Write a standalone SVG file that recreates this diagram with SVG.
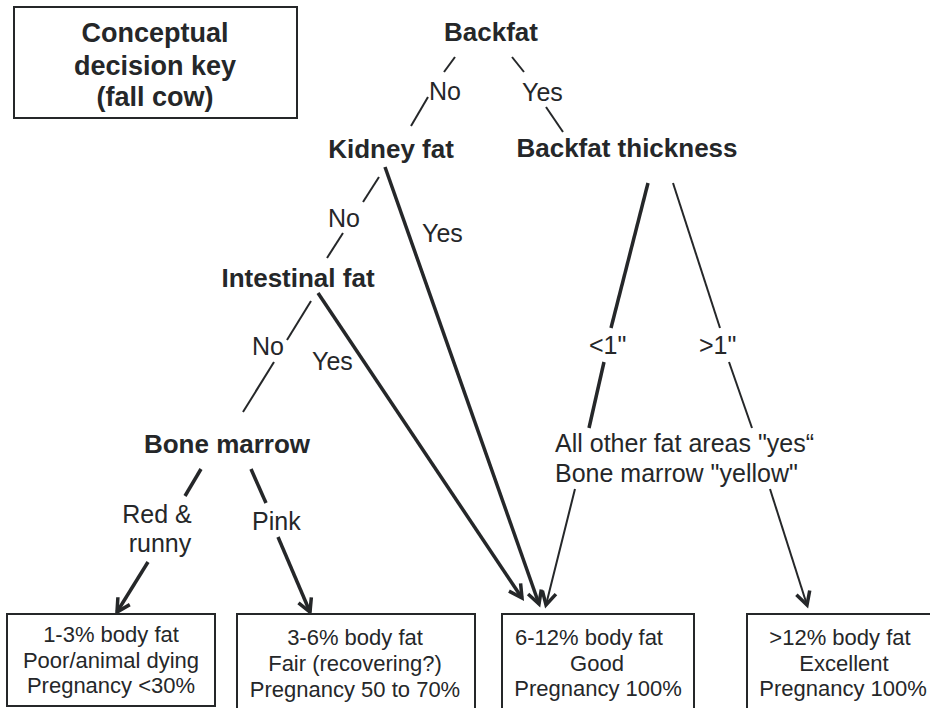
<svg xmlns="http://www.w3.org/2000/svg" width="930" height="708" viewBox="0 0 930 708">
<defs>
<style>
text{font-family:"Liberation Sans",Arial,sans-serif;fill:#252729}
.n{font-size:26px;font-weight:bold;text-anchor:middle}
.tt{font-size:27px}
.l{font-size:25px}
.b{font-size:22px;text-anchor:middle}
.box{fill:#fff;stroke:#252729;stroke-width:2}
.c{stroke:#252729;fill:none;stroke-linecap:butt}
.t1{stroke-width:2}
.t2{stroke-width:3.5}
</style>
<marker id="ah" markerUnits="userSpaceOnUse" markerWidth="20" markerHeight="20" viewBox="0 0 20 20" refX="16" refY="10" orient="auto">
<path d="M3,3 L16,10 L3,17" fill="none" stroke="#252729" stroke-width="3.5"/>
</marker>
</defs>
<rect width="930" height="708" fill="#fff"/>

<g id="title">
<rect class="box" x="14" y="7" width="283" height="111"/>
<text class="n tt" x="155" y="42">Conceptual</text>
<text class="n tt" x="155" y="75">decision key</text>
<text class="n tt" x="155" y="106">(fall cow)</text>
</g>

<g id="connectors">
<line class="c t1" x1="455" y1="57" x2="444" y2="72"/>
<line class="c t1" x1="428" y1="97" x2="411" y2="126"/>
<line class="c t1" x1="512" y1="57" x2="524" y2="72"/>
<line class="c t1" x1="546" y1="107" x2="563" y2="132"/>
<line class="c t1" x1="379" y1="177" x2="363" y2="202"/>
<line class="c t1" x1="343" y1="233" x2="327" y2="258"/>
<line class="c t2" x1="385" y1="167" x2="539" y2="604" marker-end="url(#ah)"/>
<line class="c t1" x1="311" y1="301" x2="287" y2="340"/>
<line class="c t1" x1="274" y1="362" x2="243" y2="412"/>
<line class="c t2" x1="318" y1="293" x2="522" y2="598" marker-end="url(#ah)"/>
<line class="c t2" x1="201" y1="469" x2="185" y2="496"/>
<line class="c t2" x1="148" y1="562" x2="117" y2="612" marker-end="url(#ah)"/>
<line class="c t2" x1="251" y1="469" x2="266" y2="503"/>
<line class="c t2" x1="278" y1="537" x2="310" y2="612" marker-end="url(#ah)"/>
<line class="c t2" x1="648" y1="183" x2="611" y2="328"/>
<line class="c t2" x1="604" y1="362" x2="589" y2="428"/>
<line class="c t1" x1="575" y1="489" x2="546" y2="605" marker-end="url(#ah)"/>
<line class="c t1" x1="673" y1="183" x2="720" y2="328"/>
<line class="c t1" x1="729" y1="362" x2="752" y2="428"/>
<line class="c t1" x1="770" y1="489" x2="807" y2="605" marker-end="url(#ah)"/>
</g>

<g id="labels">
<text class="l" x="429" y="100">No</text>
<text class="l" x="522" y="101">Yes</text>
<text class="l" x="328" y="227">No</text>
<text class="l" x="422" y="242">Yes</text>
<text class="l" x="252" y="355">No</text>
<text class="l" x="312" y="370">Yes</text>
<text class="l" x="157" y="523" text-anchor="middle">Red &amp;</text>
<text class="l" x="160" y="552" text-anchor="middle">runny</text>
<text class="l" x="252" y="530">Pink</text>
<text class="l" x="589" y="354">&lt;1"</text>
<text class="l" x="699" y="354">&gt;1"</text>
<text class="l" x="555" y="452">All other fat areas "yes“</text>
<text class="l" x="555" y="482">Bone marrow "yellow"</text>
</g>

<g id="backfat"><text class="n" x="491" y="41">Backfat</text></g>
<g id="backfat-thickness"><text class="n" x="627" y="157">Backfat thickness</text></g>
<g id="kidney-fat"><text class="n" x="391" y="158">Kidney fat</text></g>
<g id="intestinal-fat"><text class="n" x="298" y="287">Intestinal fat</text></g>
<g id="bone-marrow"><text class="n" x="227" y="453">Bone marrow</text></g>

<g id="result-1">
<rect class="box" x="7" y="614" width="208" height="92"/>
<text class="b" x="111" y="642">1-3% body fat</text>
<text class="b" x="111" y="668">Poor/animal dying</text>
<text class="b" x="111" y="693">Pregnancy &lt;30%</text>
</g>
<g id="result-2">
<rect class="box" x="237" y="614" width="238" height="100"/>
<text class="b" x="355" y="645">3-6% body fat</text>
<text class="b" x="355" y="671">Fair (recovering?)</text>
<text class="b" x="355" y="697">Pregnancy 50 to 70%</text>
</g>
<g id="result-3">
<rect class="box" x="502" y="614" width="192" height="100"/>
<text class="b" x="589" y="645">6-12% body fat</text>
<text class="b" x="597" y="671">Good</text>
<text class="b" x="598" y="696">Pregnancy 100%</text>
</g>
<g id="result-4">
<rect class="box" x="747" y="614" width="200" height="100"/>
<text class="b" x="840" y="645">&gt;12% body fat</text>
<text class="b" x="844" y="671">Excellent</text>
<text class="b" x="843" y="696">Pregnancy 100%</text>
</g>
</svg>
